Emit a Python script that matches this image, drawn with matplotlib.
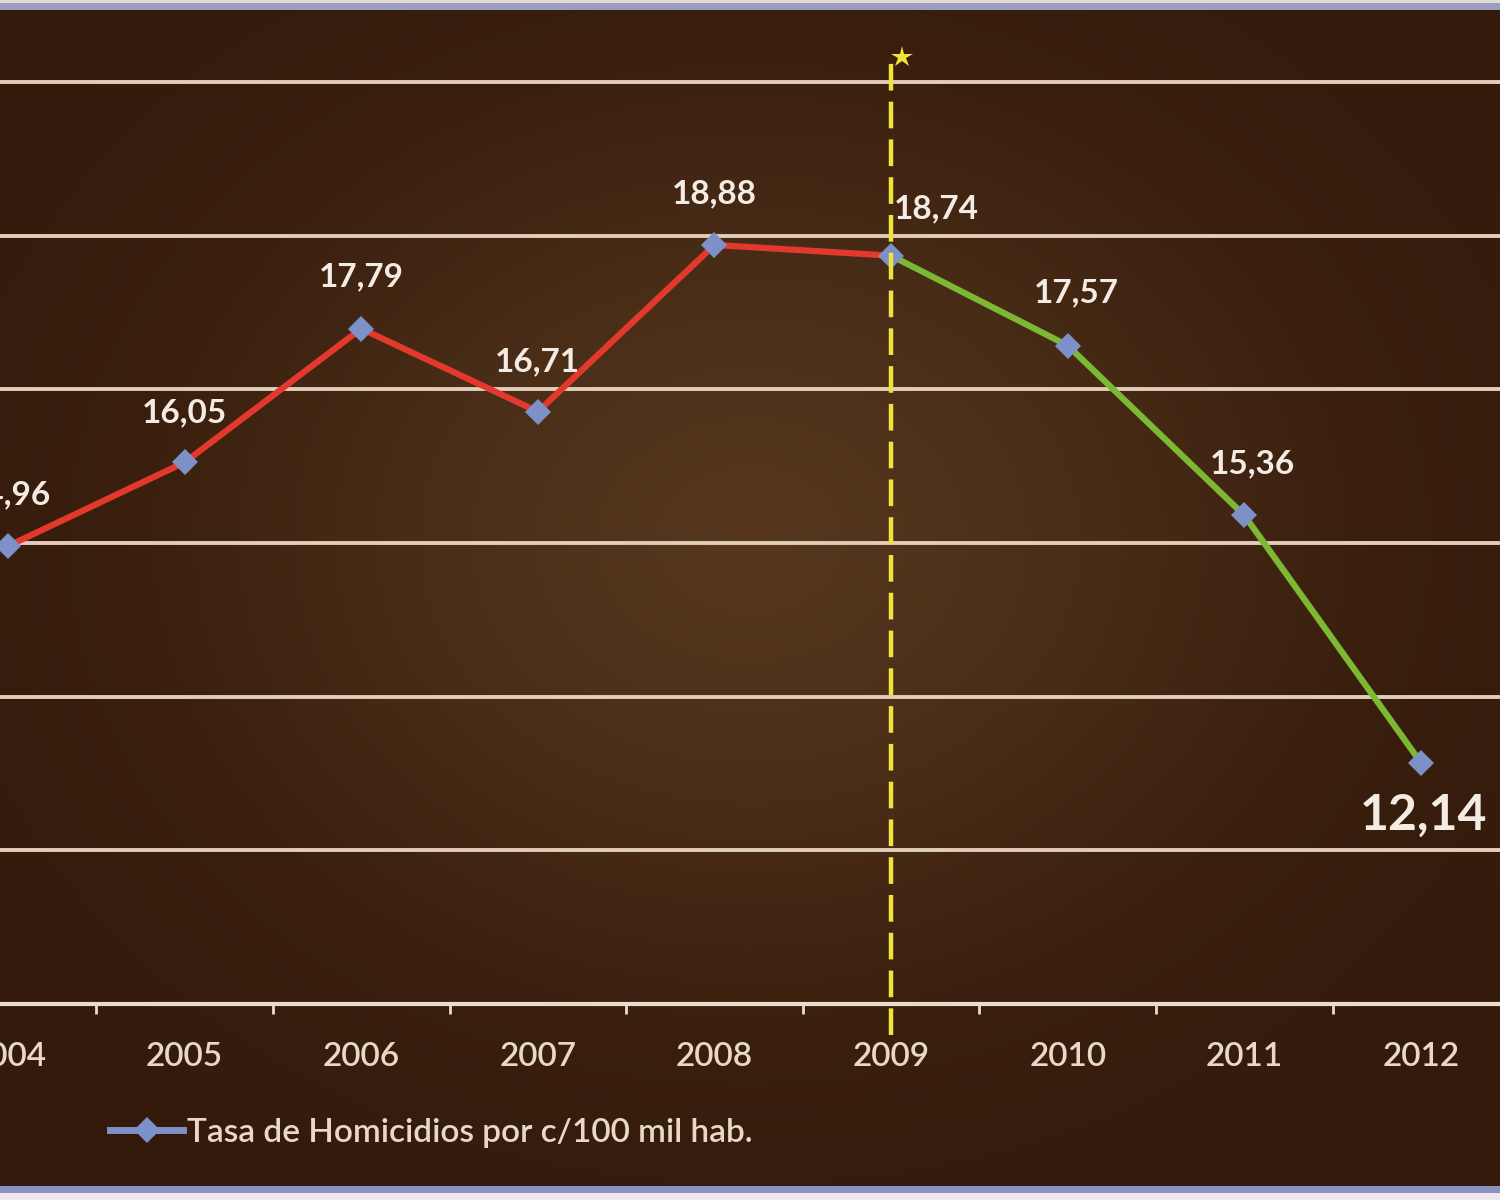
import numpy as np
import matplotlib
matplotlib.use("Agg")
import matplotlib.pyplot as plt
from matplotlib.lines import Line2D
from matplotlib.patches import Rectangle
from matplotlib.colors import LinearSegmentedColormap

# ---- data ----
years = ["2004", "2005", "2006", "2007", "2008", "2009", "2010", "2011", "2012"]
rates = [14.96, 16.05, 17.79, 16.71, 18.88, 18.74, 17.57, 15.36, 12.14]
split_year = "2009"
series_label = "Tasa de Homicidios por c/100 mil hab."

plt.rcParams['font.family'] = ['Lato', 'DejaVu Sans']

W, H = 1500, 1200
fig = plt.figure(figsize=(W / 100, H / 100), dpi=100)
fig.patch.set_facecolor("#3a200f")

# ---- radial gradient background ----
bg = fig.add_axes([0, 0, 1, 1], zorder=-10)
yy, xx = np.mgrid[0:1:300j, 0:1:375j]
r = np.sqrt(((xx - 0.5) / 0.62) ** 2 + ((yy - 0.55) / 0.62) ** 2)
cmap = LinearSegmentedColormap.from_list("bg", ["#57381f", "#4a2e18", "#3a1f0e", "#331a0b"])
bg.imshow(np.clip(r, 0, 1), cmap=cmap, vmin=0, vmax=1, extent=[0, 1, 0, 1],
          aspect="auto", origin="lower", interpolation="bicubic")
bg.set_axis_off()

# border strips
fig.patches.append(Rectangle((0, 1 - 10 / H), 1, 10 / H, transform=fig.transFigure,
                             facecolor="#9a9cc2", edgecolor="none", zorder=-5))
fig.patches.append(Rectangle((0, 1 - 3 / H), 1, 3 / H, transform=fig.transFigure,
                             facecolor="#e4dad4", edgecolor="none", zorder=-4))
fig.patches.append(Rectangle((0, 0), 1, 14 / H, transform=fig.transFigure,
                             facecolor="#8893c2", edgecolor="none", zorder=-5))
fig.patches.append(Rectangle((0, 0), 1, 7 / H, transform=fig.transFigure,
                             facecolor="#eee8ee", edgecolor="none", zorder=-4))

# ---- main axes ----
px_per_unit = 76.83
y_bottom = 9
ax_bottom_px = 1004
ax_top_px = 10
y_top = y_bottom + (ax_bottom_px - ax_top_px) / px_per_unit
ax = fig.add_axes([0, (H - ax_bottom_px) / H, 1, (ax_bottom_px - ax_top_px) / H])
ax.patch.set_alpha(0)

x = np.arange(len(years))
xstep = 176.6
ax.set_xlim(-8 / xstep, 8 + 79 / xstep)
ax.set_ylim(y_bottom, y_top)

grid_c = "#e2cdb8"
for s in ["top", "right", "left"]:
    ax.spines[s].set_visible(False)
ax.spines["bottom"].set_color("#eadccc")
ax.spines["bottom"].set_linewidth(3)

ax.set_yticks(np.arange(11, 22, 2))
ax.tick_params(axis="y", left=False, labelleft=False)
ax.yaxis.grid(True, color=grid_c, linewidth=2.8)
ax.set_axisbelow(True)

ax.set_xticks(x)
ax.set_xticklabels(years, fontweight="semibold")
ax.set_xticks(x[:-1] + 0.5, minor=True)
ax.tick_params(axis="x", which="major", length=0, pad=27, labelsize=24, labelcolor="#e8d8c6")
ax.tick_params(axis="x", which="minor", length=7, width=2, color="#eadccc", direction="out")

si = years.index(split_year)
line_red = "#e2392c"
line_green = "#7cb833"
marker_c = "#7d90c8"

ax.plot(x[:si + 1], rates[:si + 1], color=line_red, linewidth=4.5, solid_capstyle="round", zorder=3)
ax.plot(x[si:], rates[si:], color=line_green, linewidth=4.5, solid_capstyle="round", zorder=3)
ax.plot(x, rates, linestyle="none", marker="D", markersize=13, color=marker_c,
        markeredgewidth=0, zorder=4)

# vertical dashed marker line
ax.plot([x[si], x[si]], [8.6, 21.35], color="#f2e23c", linewidth=3.2,
        dashes=(6, 2.5), clip_on=False, zorder=5)
ax.plot([x[si] + 0.06], [21.33], marker="*", markersize=16, color="#f2e23c",
        markeredgewidth=0, clip_on=False, zorder=5)

# data labels
offsets = [(0, 37), (0, 36), (0, 37), (0, 36), (0, 37), (2, 34), (6, 38), (6, 37), (2, -38)]
aligns = ["center", "center", "center", "center", "center", "left", "center", "center", "center"]
for i, (xi, v) in enumerate(zip(x, rates)):
    big = i == len(rates) - 1
    ax.annotate(f"{v:.2f}".replace(".", ","), (xi, v), xytext=offsets[i],
                textcoords="offset points", ha=aligns[i], va="center",
                fontsize=36 if big else 24, fontweight="bold", color="#f4ece4",
                annotation_clip=False, zorder=6)

# legend
handle = Line2D([0], [0], color=marker_c, linewidth=5, marker="D", markersize=13,
                markeredgewidth=0)
leg = fig.legend([handle], [series_label], loc="center left",
                 bbox_to_anchor=(110 / W, (H - 1133) / H), frameon=False,
                 fontsize=24, handlelength=2.2, handletextpad=0.1,
                 borderpad=0, borderaxespad=0, prop={"weight": "semibold", "size": 24})
for t in leg.get_texts():
    t.set_color("#e8d8c6")

fig.savefig("out.png", dpi=100, facecolor=fig.get_facecolor())
